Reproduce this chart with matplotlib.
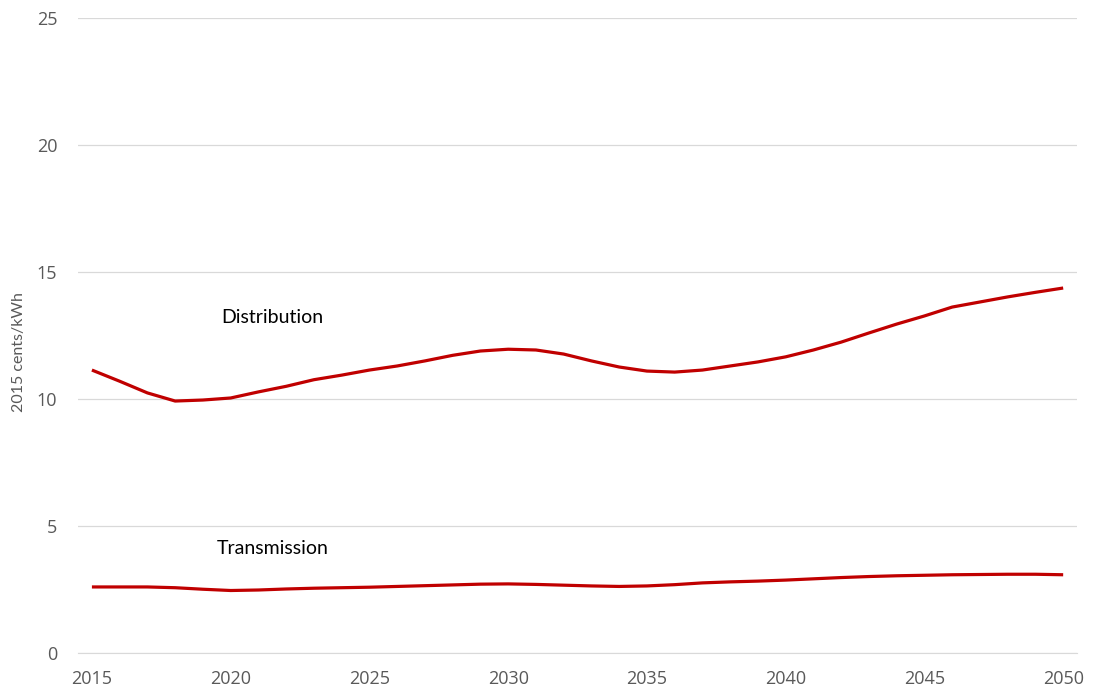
import numpy as np
import matplotlib
matplotlib.use("Agg")
import matplotlib.pyplot as plt

years = list(range(2015, 2051))

# 2015 cents/kWh
distribution = [11.14, 10.70, 10.24, 9.92, 9.96, 10.04, 10.28, 10.50, 10.76, 10.94,
                11.14, 11.30, 11.50, 11.72, 11.89, 11.96, 11.93, 11.77, 11.50, 11.26,
                11.10, 11.06, 11.14, 11.30, 11.46, 11.66, 11.93, 12.24, 12.60, 12.95,
                13.27, 13.62, 13.82, 14.02, 14.20, 14.37]
transmission = [2.60, 2.60, 2.60, 2.57, 2.51, 2.46, 2.48, 2.52, 2.55, 2.57,
                2.59, 2.62, 2.65, 2.68, 2.71, 2.72, 2.70, 2.67, 2.64, 2.62,
                2.64, 2.69, 2.76, 2.80, 2.83, 2.87, 2.92, 2.97, 3.01, 3.04,
                3.06, 3.08, 3.09, 3.10, 3.10, 3.08]

series_labels = ["Distribution", "Transmission"]
label_pos = [(2021.5, 13.2), (2021.5, 4.1)]

line_color = "#C00000"
tick_color = "#595959"

fig = plt.figure(figsize=(10.93, 6.94), dpi=100)
ax = fig.add_axes([0.0714, 0.0591, 0.914, 0.9149])

for vals in (distribution, transmission):
    ax.plot(years, vals, color=line_color, linewidth=2.3, solid_capstyle="butt")

for text, (x, y) in zip(series_labels, label_pos):
    ax.text(x, y, text, ha="center", va="center", fontsize=14,
            family="Lato", color="black")

ax.set_xlim(2014.5, 2050.5)
ax.set_ylim(0, 25)
ax.set_xticks(range(2015, 2051, 5))
ax.set_yticks(range(0, 26, 5))
ax.grid(axis="y", color="#D9D9D9", linewidth=0.9)
ax.set_axisbelow(True)
for side in ("top", "right", "left"):
    ax.spines[side].set_visible(False)
ax.spines["bottom"].set_color("#D9D9D9")
ax.tick_params(length=0, colors=tick_color, labelsize=13)
for lbl in ax.get_xticklabels() + ax.get_yticklabels():
    lbl.set_family("Open Sans")
ax.tick_params(axis="y", pad=15)
ax.tick_params(axis="x", pad=12)
ax.set_ylabel("2015 cents/kWh", fontsize=11.5, color=tick_color, family="Lato")
ax.yaxis.set_label_coords(-0.052, 0.474)

fig.savefig("out.png", dpi=100)
